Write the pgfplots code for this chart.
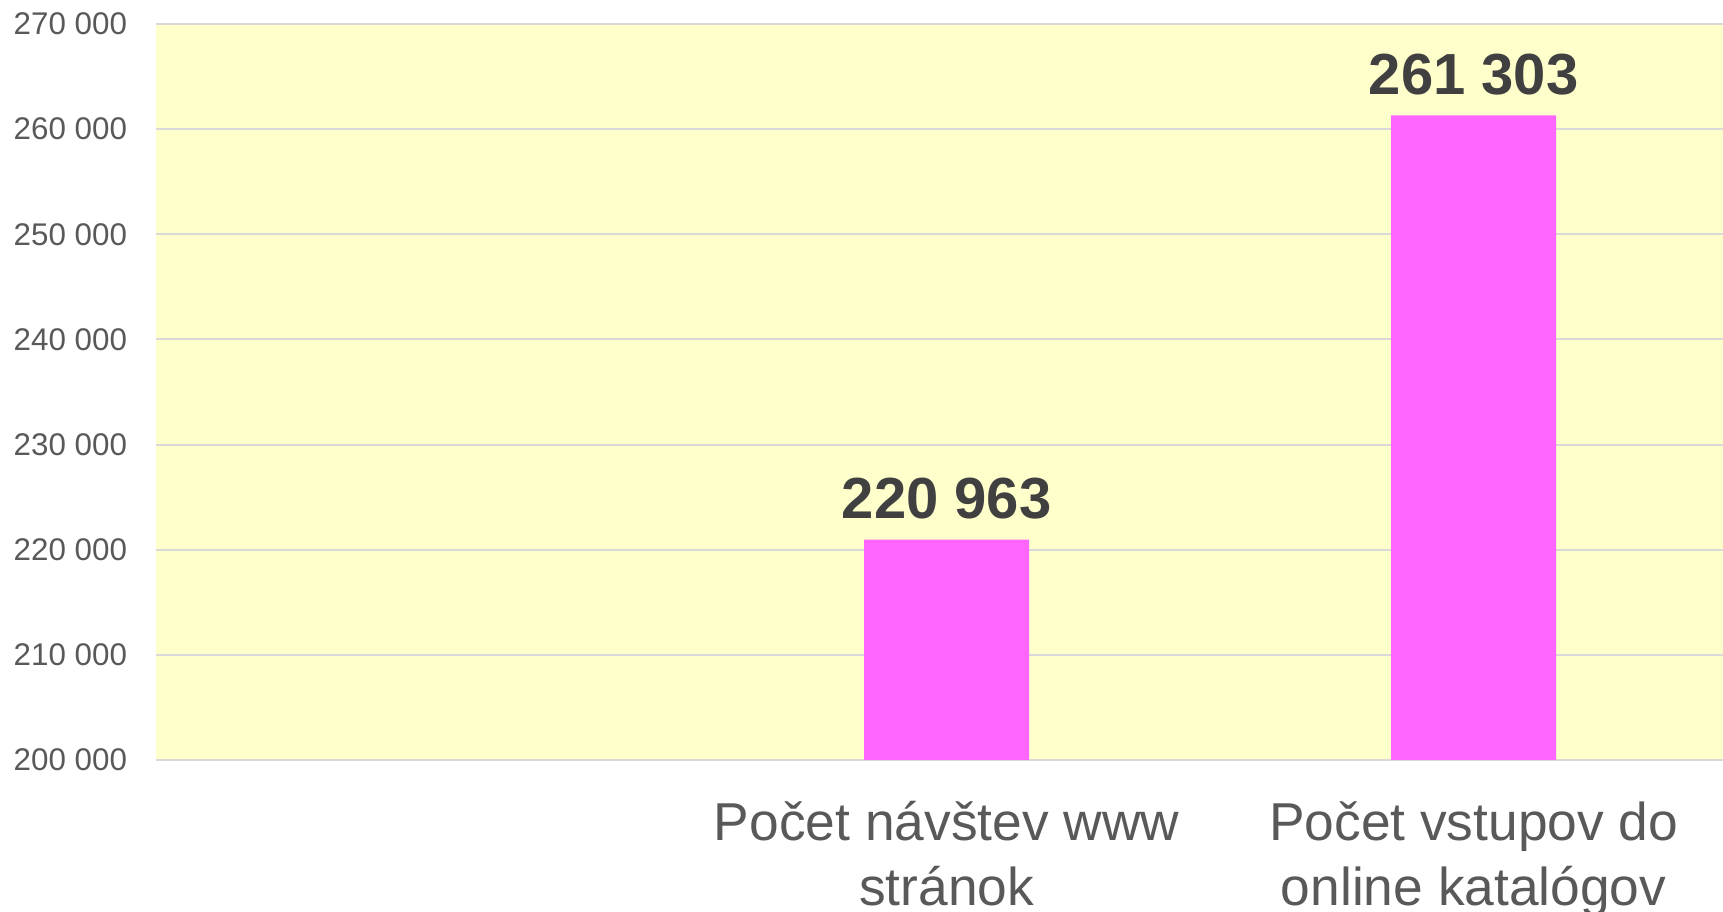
\documentclass[border=0pt]{standalone}
\usepackage{fontspec}
\setmainfont{Liberation Sans}
\usepackage{pgfplots}
\pgfplotsset{compat=1.18}
\definecolor{bgyel}{HTML}{FFFFCC}
\definecolor{barpink}{HTML}{FF66FF}
\definecolor{gridgray}{HTML}{D9D9D9}
\definecolor{ticktxt}{HTML}{595959}
\definecolor{valtxt}{HTML}{404040}
\begin{document}
\begin{tikzpicture}
\begin{axis}[
  scale only axis,
  width=470.1pt, height=220.8pt,
  xmin=-0.5, xmax=2.473,
  ymin=200000, ymax=270000,
  enlargelimits=false,
  scaled y ticks=false,
  axis background/.style={fill=bgyel},
  axis line style={draw=none},
  tick style={draw=none},
  ymajorgrids,
  major grid style={gridgray, line width=0.6pt},
  ytick={200000,210000,220000,230000,240000,250000,260000,270000},
  yticklabels={200 000,210 000,220 000,230 000,240 000,250 000,260 000,270 000},
  yticklabel style={font=\fontsize{9.4}{11}\selectfont, text=ticktxt, inner sep=0pt, anchor=east, xshift=-8.5pt},
  xtick={0,1,2},
  xticklabels={{}, {Počet návštev www\\stránok}, {Počet vstupov do\\online katalógov}},
  xticklabel style={font=\fontsize{16}{19.5}\selectfont, text=ticktxt, align=center, inner sep=0pt, anchor=north, yshift=-7.9pt},
  ybar,
  bar width=0.313,
  point meta=explicit symbolic,
  nodes near coords,
  nodes near coords style={font=\fontsize{17.4}{20}\bfseries\selectfont, text=valtxt, anchor=south, inner sep=0pt, yshift=6pt},
]
\addplot[fill=barpink, draw=none] coordinates {(1,220963) [220 963] (2,261303) [261 303]};
\coordinate (BL) at (rel axis cs:0,0);
\coordinate (TR) at (rel axis cs:1,1);
\end{axis}
\pgfresetboundingbox
\path[use as bounding box] ([shift={(-46.8pt,-45.6pt)}]BL) rectangle ([shift={(0pt,7.2pt)}]TR);
\end{tikzpicture}
\end{document}
